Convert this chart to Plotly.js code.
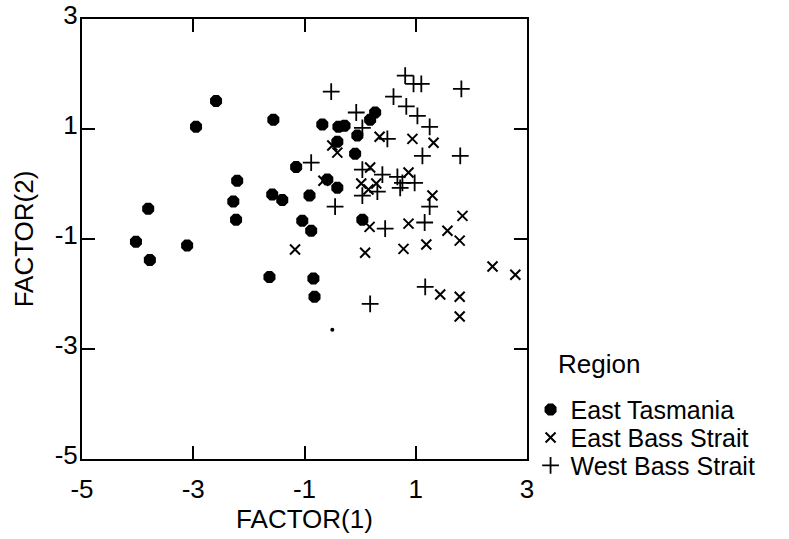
<!DOCTYPE html>
<html>
<head>
<meta charset="utf-8">
<script src="https://cdn.plot.ly/plotly-3.0.1.min.js"></script>
<style>html,body{margin:0;padding:0;background:#fff;}#chart{width:789px;height:539px;}</style>
</head>
<body>
<div id="chart"></div>
<script>
// East Tasmania
const etX = [-4.03,-3.78,-3.81,-3.11,-2.95,-2.59,-1.56,-1.15,-2.21,-2.28,-2.23,-1.58,-1.40,-0.91,-1.04,-0.88,-1.63,-0.84,-0.82,-0.68,-0.39,-0.28,0.27,0.18,-0.05,-0.41,-0.09,-0.59,-0.41,0.04];
const etY = [-1.05,-1.38,-0.45,-1.12,1.04,1.51,1.17,0.31,0.06,-0.32,-0.65,-0.19,-0.29,-0.21,-0.67,-0.85,-1.69,-1.72,-2.05,1.08,1.04,1.06,1.30,1.17,0.88,0.77,0.55,0.08,-0.07,-0.65];
// small stray East Tasmania point
const etDotX = [-0.50];
const etDotY = [-2.65];
// East Bass Strait
const ebX = [-0.50,-0.41,0.35,0.94,1.32,0.18,-0.66,0.02,0.29,0.15,0.87,1.30,1.84,0.17,0.87,1.57,1.79,0.78,1.19,-1.17,0.09,2.38,2.79,1.44,1.79,1.79];
const ebY = [0.70,0.57,0.86,0.82,0.75,0.30,0.06,0.01,0.01,-0.10,0.21,-0.21,-0.58,-0.78,-0.72,-0.85,-1.03,-1.18,-1.10,-1.19,-1.25,-1.50,-1.65,-2.01,-2.05,-2.41];
// West Bass Strait
const wbX = [-0.52,-0.07,0.04,0.49,0.60,0.81,0.96,1.10,1.82,0.83,1.03,1.25,1.12,1.80,-0.88,0.04,0.40,0.67,0.76,0.72,0.98,0.04,0.31,-0.45,1.25,1.16,0.45,1.17,0.18];
const wbY = [1.68,1.30,1.02,0.82,1.59,1.97,1.82,1.82,1.73,1.41,1.24,1.04,0.51,0.51,0.39,0.26,0.17,0.13,0.02,-0.07,0.02,-0.21,-0.14,-0.41,-0.41,-0.70,-0.81,-1.87,-2.18];
const tickVals = [-5,-3,-1,1,3];
const tickText = ["-5","-3","-1","1","3"];
const regions = ["East Tasmania","East Bass Strait","West Bass Strait"];
const legendTitle = "Region";

const FONT = 'Liberation Sans, Arial, sans-serif';
const FS = 26;

const traces = [
  {x: etX, y: etY, name: regions[0], type: 'scatter', mode: 'markers', legend: 'legend',
   marker: {symbol: 'octagon', size: 13, color: '#000', line: {width: 0}}},
  {x: ebX, y: ebY, name: regions[1], type: 'scatter', mode: 'markers', legend: 'legend2',
   marker: {symbol: 'x-thin-open', size: 10, color: '#000', line: {width: 2, color: '#000'}}},
  {x: wbX, y: wbY, name: regions[2], type: 'scatter', mode: 'markers', legend: 'legend3',
   marker: {symbol: 'cross-thin-open', size: 12, color: '#000', line: {width: 1.8, color: '#000'}}},
  {x: etDotX, y: etDotY, name: regions[0], type: 'scatter', mode: 'markers', showlegend: false,
   marker: {symbol: 'circle', size: 4, color: '#000'}}
];

const axisCommon = {
  range: [-5, 3], tickmode: 'array', tickvals: tickVals, ticktext: tickText,
  showgrid: false, zeroline: false, showline: true, linecolor: '#000', linewidth: 2,
  mirror: 'ticks', ticks: 'inside', ticklen: 13, tickwidth: 2, tickcolor: '#000',
  tickfont: {family: FONT, size: FS, color: '#000'}, automargin: false,
  ticklabeloverflow: 'allow'
};

function legendAt(yPix) {
  return {
    x: 1.008, xanchor: 'left', y: (459.3 - yPix) / 440, yanchor: 'middle',
    font: {family: FONT, size: FS - 1, color: '#000'},
    bgcolor: 'rgba(0,0,0,0)', borderwidth: 0, itemwidth: 30
  };
}

const layout = {
  width: 789, height: 539,
  margin: {l: 82, r: 262, t: 19, b: 80, pad: 0},
  paper_bgcolor: '#fff', plot_bgcolor: '#fff',
  font: {family: FONT, color: '#000'},
  xaxis: Object.assign({}, axisCommon, {
    ticklabelstandoff: 6,
    title: {text: 'FACTOR(1)', font: {family: FONT, size: FS, color: '#000'}, standoff: 7}
  }),
  yaxis: Object.assign({}, axisCommon, {
    ticklabelstandoff: -3, ticklabelshift: -4,
    title: {text: 'FACTOR(2)', font: {family: FONT, size: FS, color: '#000'}, standoff: 14}
  }),
  showlegend: true,
  legend: legendAt(410),
  legend2: legendAt(438),
  legend3: legendAt(466),
  annotations: [{
    text: legendTitle, xref: 'paper', yref: 'paper',
    x: (598 - 82) / 444.5, xanchor: 'center', y: (459.3 - 364) / 440, yanchor: 'middle',
    showarrow: false, font: {family: FONT, size: FS, color: '#000'}
  }]
};

Plotly.newPlot('chart', traces, layout, {displayModeBar: false, staticPlot: true});
</script>
</body>
</html>
